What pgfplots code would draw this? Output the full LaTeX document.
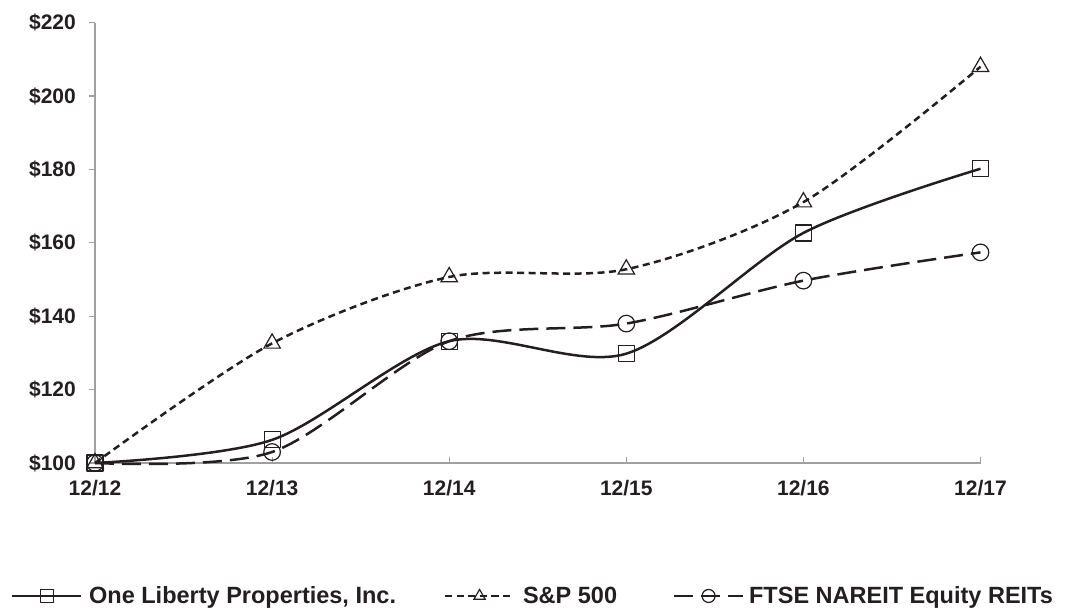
\documentclass[border=0pt]{standalone}
\usepackage{fontspec}
\setmainfont{Liberation Sans}
\usepackage{pgfplots}
\pgfplotsset{compat=1.18}
\definecolor{ink}{HTML}{231F20}
\definecolor{axgray}{HTML}{A0A0A0}
\newcommand{\tf}{\bfseries\fontsize{21}{24}\selectfont}
\newcommand{\lf}{\bfseries\fontsize{23.5}{26}\selectfont}
\begin{document}
\begin{tikzpicture}[x=1pt,y=1pt]
\useasboundingbox (0,0) rectangle (1066,611);
\begin{axis}[
  at={(95pt,148pt)}, anchor=south west,
  scale only axis, width=885.5pt, height=440.3pt,
  xmin=0, xmax=5, ymin=100, ymax=220,
  clip=false,
  axis x line*=bottom, axis y line*=left,
  axis line style={axgray, line width=1.2pt, -},
  xtick={0,1,2,3,4,5},
  xticklabels={12/12,12/13,12/14,12/15,12/16,12/17},
  ytick={100,120,140,160,180,200,220},
  yticklabels={\$100,\$120,\$140,\$160,\$180,\$200,\$220},
  xtick align=inside, ytick align=outside,
  major tick length=6pt,
  tick style={axgray, line width=1.2pt},
  /pgf/number format/assume math mode=true,
  ticklabel style={font=\tf, text=ink},
  xticklabel style={inner sep=0pt, anchor=north, yshift=-17pt},
  yticklabel style={inner sep=0pt, anchor=east, xshift=-13pt},
  legend columns=3,
  legend style={draw=none, fill=none, font=\lf, text=ink,
    at={(axis description cs:-0.0949,-0.302)}, anchor=west,
    inner sep=0pt,
    nodes={inner sep=0pt},
    /tikz/column 1/.style={column sep=7pt},
    /tikz/column 2/.style={column sep=48pt},
    /tikz/column 3/.style={column sep=8pt},
    /tikz/column 4/.style={column sep=56pt},
    /tikz/column 5/.style={column sep=5pt}},
  legend image code/.code={\draw[mark repeat=2,mark phase=2,#1,line width=2pt,mark size=6.5pt] plot coordinates {(0pt,0pt)(34.5pt,0pt)(69pt,0pt)};},
]
\addplot[ink, line width=2.5pt, smooth, line join=round, mark=square, mark size=8pt,
  mark options={solid, line width=1.2pt}]
  coordinates {(0,100)(1,106.3)(2,133.2)(3,129.8)(4,162.7)(5,180.2)};
\addlegendentry{One Liberty Properties, Inc.}
\addplot[ink, line width=2.5pt, smooth, dash pattern=on 7pt off 4.5pt, mark=triangle, mark size=9.5pt,
  mark options={solid, line width=1.2pt}]
  coordinates {(0,100)(1,132.6)(2,150.7)(3,152.8)(4,171.1)(5,208.0)};
\addlegendentry{S\&P 500}
\addplot[ink, line width=2.5pt, smooth, dash pattern=on 19pt off 8pt, mark=o, mark size=8.3pt,
  mark options={solid, line width=1.2pt}]
  coordinates {(0,100)(1,103.0)(2,133.2)(3,138.0)(4,149.7)(5,157.4)};
\addlegendentry{FTSE NAREIT Equity REITs}
\end{axis}
\end{tikzpicture}
\end{document}
